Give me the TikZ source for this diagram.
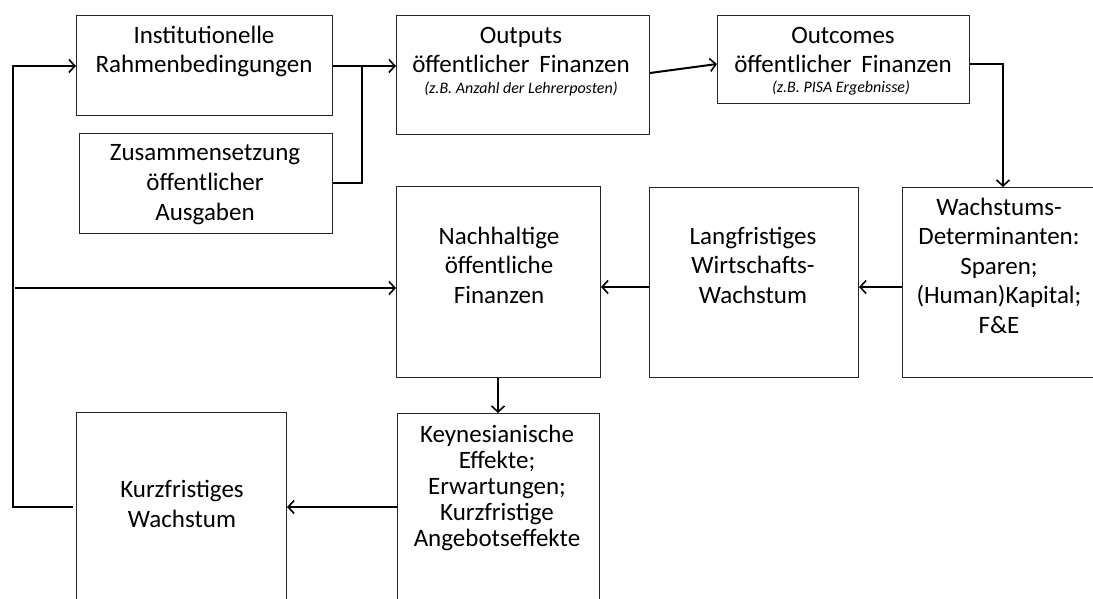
\documentclass[tikz,border=0pt]{standalone}
\usepackage{fontspec}
\setmainfont{Carlito}
\usetikzlibrary{arrows.meta,calc}
\tikzset{
  box/.style={draw=black!85, line width=1pt, inner sep=0pt, anchor=north west},
  txt/.style={font=\fontsize{25}{29.5}\selectfont, align=center, inner sep=0pt, anchor=base},
  txtk/.style={font=\fontsize{25}{26}\selectfont, align=center, inner sep=0pt, anchor=base},
  smalltxt/.style={font=\fontsize{16}{18}\selectfont\itshape, inner sep=0pt, anchor=base},
  arr/.style={line width=2pt, -{Straight Barb[length=6pt,width=13pt,line width=1.6pt]}},
  ln/.style={line width=2pt}
}
\begin{document}
\begin{tikzpicture}[x=1pt,y=-1pt]
\useasboundingbox (0,0) rectangle (1093,599);
\clip (0,0) rectangle (1093,599);
% boxes
\node[box, minimum width=256pt, minimum height=100pt] (b1) at (76,15) {};
\node[box, minimum width=253pt, minimum height=100pt] (b2) at (79,133) {};
\node[box, minimum width=253pt, minimum height=119pt] (b3) at (396,15) {};
\node[box, minimum width=252pt, minimum height=88pt] (b4) at (717,15) {};
\node[box, minimum width=200pt, minimum height=190pt] (wach) at (902,187) {};
\node[box, minimum width=209pt, minimum height=190pt] (lang) at (649,187) {};
\node[box, minimum width=204pt, minimum height=191pt] (nach) at (396,186) {};
\node[box, minimum width=202pt, minimum height=210pt] (keyn) at (397,413) {};
\node[box, minimum width=210pt, minimum height=210pt] (kurz) at (76,412) {};
% texts (anchor base = baseline of last line)
\node[txt] (t1) at (204,73) {Institutionelle\\Rahmenbedingungen};
\node[txt] (t2) at (205,220) {Zusammensetzung\\öffentlicher\\Ausgaben};
\node[txt] (t3) at (521,73) {Outputs\\öffentlicher\, Finanzen};
\node[smalltxt] (t3s) at (521,94) {(z.B. Anzahl der Lehrerposten)};
\node[txt] (t4) at (843,73) {Outcomes\\öffentlicher\, Finanzen};
\node[smalltxt] (t4s) at (841,93) {(z.B. PISA Ergebnisse)};
\node[txt] (t5) at (999,333) {Wachstums-\\Determinanten:\\Sparen;\\(Human)Kapital;\\F\&E};
\node[txt] (t6) at (753,303) {Langfristiges\\Wirtschafts-\\Wachstum};
\node[txt] (t7) at (499,303) {Nachhaltige\\öffentliche\\Finanzen};
\node[txtk] (t8) at (497,546) {Keynesianische\\Effekte;\\Erwartungen;\\Kurzfristige\\Angebotseffekte};
\node[txt] (t9) at (182,527) {Kurzfristiges\\Wachstum};
% helper coordinates
\coordinate (j) at (362,66);
\coordinate (fbx) at (13,66);
\coordinate (fbb) at (13,507);
\coordinate (fin) at (15,288);
\coordinate (o4) at (1003,64);
% connectors
\draw[arr] (b1.east |- j) -- (b3.west |- j);
\draw[ln] (b2.east) -| (j);
\draw[arr] (b3.east |- 0,73) -- (b4.west |- 0,64);
\draw[arr] (b4.east |- o4) -- (o4) -- (o4 |- wach.north);
\draw[arr] (wach.west |- 0,287) -- (lang.east |- 0,287);
\draw[arr] (lang.west |- 0,287) -- (nach.east |- 0,287);
\draw[arr] (fin) -- (nach.west |- fin);
\draw[arr] (nach.south -| 498,0) -- (keyn.north -| 498,0);
\draw[arr] (keyn.west |- fbb) -- (kurz.east |- fbb);
\draw[arr] ([xshift=-3pt]kurz.west |- fbb) -- (fbb) -- (fbx) -- (b1.west |- fbx);
\end{tikzpicture}
\end{document}
